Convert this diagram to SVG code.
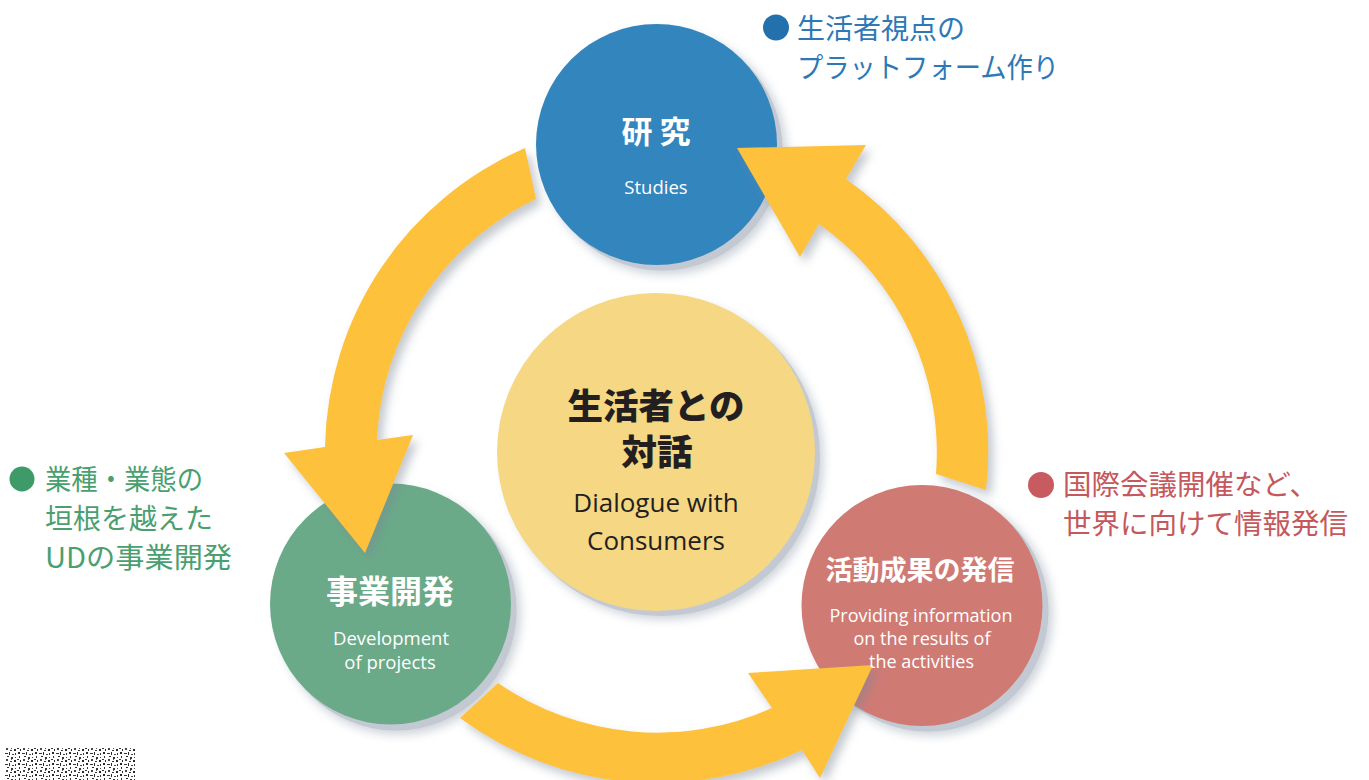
<svg xmlns="http://www.w3.org/2000/svg" width="1369" height="780" viewBox="0 0 1369 780">
  <defs>
    <style>
      .jp { font-family: "Noto Sans CJK JP", "Noto Sans", sans-serif; }
      .en { font-family: "Open Sans", "Noto Sans", "Liberation Sans", sans-serif; }
      .title { font-weight: 700; fill: #ffffff; text-anchor: middle; }
      .sub { fill: #ffffff; text-anchor: middle; }
      .arrow { fill: #fdc13a; filter: url(#ashadow); }
      .shadowA { fill: #a9b2be; opacity: 0.55; filter: url(#blur); }
      .shadowB { fill: #c2c9d2; }
    </style>
    <filter id="blur" x="-20%" y="-20%" width="140%" height="140%">
      <feGaussianBlur stdDeviation="5"/>
    </filter>
    <filter id="ashadow" x="-20%" y="-20%" width="140%" height="140%">
      <feDropShadow dx="5" dy="6" stdDeviation="5" flood-color="#7d8794" flood-opacity="0.45"/>
    </filter>
    <pattern id="noise" width="17" height="11" patternUnits="userSpaceOnUse">
      <rect x="0" y="0" width="2" height="1" fill="#222"/>
      <rect x="3" y="1" width="1" height="2" fill="#111"/>
      <rect x="6" y="0" width="2" height="2" fill="#333"/>
      <rect x="10" y="2" width="2" height="1" fill="#222"/>
      <rect x="14" y="1" width="2" height="2" fill="#111"/>
      <rect x="1" y="4" width="2" height="2" fill="#111"/>
      <rect x="5" y="5" width="3" height="1" fill="#222"/>
      <rect x="9" y="4" width="1" height="3" fill="#111"/>
      <rect x="12" y="6" width="2" height="1" fill="#333"/>
      <rect x="15" y="5" width="1" height="2" fill="#222"/>
      <rect x="2" y="8" width="1" height="2" fill="#222"/>
      <rect x="7" y="8" width="2" height="1" fill="#111"/>
      <rect x="11" y="9" width="2" height="2" fill="#222"/>
      <rect x="15" y="9" width="1" height="1" fill="#333"/>
      <rect x="11" y="0" width="1" height="1" fill="#444"/>
    </pattern>
  </defs>

  <rect width="1369" height="780" fill="#ffffff"/>

  <!-- noise patch -->
  <rect x="4" y="748" width="131" height="32" fill="url(#noise)" opacity="0.9"/>

  <!-- center node -->
  <g id="node-dialogue">
    <circle class="shadowA" cx="664" cy="460" r="160"/>
    <circle class="shadowB" cx="661" cy="457" r="159"/>
    <circle cx="656" cy="452" r="159" fill="#f5d784"/>
    <text class="jp" x="656" y="419" font-size="35.5" font-weight="900" fill="#231f20" text-anchor="middle">生活者との</text>
    <text class="jp" x="657" y="465" font-size="35.5" font-weight="900" fill="#231f20" text-anchor="middle">対話</text>
    <text class="en" x="656" y="512" font-size="26" fill="#231f20" text-anchor="middle">Dialogue with</text>
    <text class="en" x="656" y="550" font-size="26" fill="#231f20" text-anchor="middle">Consumers</text>
  </g>

  <!-- studies node -->
  <g id="node-studies">
    <circle class="shadowA" cx="665" cy="153" r="122"/>
    <circle class="shadowB" cx="662" cy="150" r="120.5"/>
    <circle cx="656.5" cy="144.5" r="120.5" fill="#3385bd"/>
    <text class="jp title" x="656" y="143" font-size="31">研 究</text>
    <text class="en sub" x="656" y="194" font-size="18.5">Studies</text>
  </g>

  <!-- development node -->
  <g id="node-development">
    <circle class="shadowA" cx="399" cy="613" r="122"/>
    <circle class="shadowB" cx="396" cy="610" r="120.5"/>
    <circle cx="390.5" cy="604" r="120.5" fill="#6aaa88"/>
    <text class="jp title" x="390" y="603" font-size="32">事業開発</text>
    <text class="en sub" x="391" y="645" font-size="18.5">Development</text>
    <text class="en sub" x="390" y="669" font-size="18.5">of projects</text>
  </g>

  <!-- information node -->
  <g id="node-information">
    <circle class="shadowA" cx="931" cy="614" r="122"/>
    <circle class="shadowB" cx="928" cy="611" r="120.5"/>
    <circle cx="922" cy="605.5" r="120.5" fill="#d07a74"/>
  </g>

  <!-- connectors -->
  <g id="connectors">
    <path class="arrow" d="M525,148 A332,332 0 0,0 325,447 L284,453 L365,553 L413,435 L377,440 A280,280 0 0,1 536,199 Z"/>
    <path class="arrow" d="M460,718 A332,332 0 0,0 802,750 L820,778 L873,665 L748,673 L772,708 A280,280 0 0,1 498,683 Z"/>
    <path class="arrow" d="M986,490 A332,332 0 0,0 846,179 L866,145 L737,148 L800,257 L819,224 A280,280 0 0,1 936,474 Z"/>
  </g>

  <!-- information node texts (over arrows) -->
  <g id="node-information-text">
    <text class="jp title" x="920" y="580" font-size="27">活動成果の発信</text>
    <text class="en sub" x="921" y="622" font-size="18">Providing information</text>
    <text class="en sub" x="922" y="645" font-size="18">on the results of</text>
    <text class="en sub" x="921.5" y="668" font-size="18">the activities</text>
  </g>

  <!-- annotations -->
  <g id="note-studies">
    <circle cx="776" cy="27.5" r="13" fill="#2270ac"/>
    <text class="jp" x="797" y="39" font-size="28" fill="#2e78b5">生活者視点の</text>
    <text class="jp" x="797" y="78" font-size="28" fill="#2e78b5" textLength="262" lengthAdjust="spacingAndGlyphs">プラットフォーム作り</text>
  </g>
  <g id="note-development">
    <circle cx="22" cy="479" r="12.5" fill="#3f9a6a"/>
    <text class="jp" x="45" y="490" font-size="28" fill="#4a9f70" textLength="158" lengthAdjust="spacingAndGlyphs">業種・業態の</text>
    <text class="jp" x="45" y="529" font-size="28" fill="#4a9f70">垣根を越えた</text>
    <text class="jp" x="45" y="568" font-size="28" fill="#4a9f70" textLength="187" lengthAdjust="spacingAndGlyphs">UDの事業開発</text>
  </g>
  <g id="note-information">
    <circle cx="1041" cy="485" r="13" fill="#c85b60"/>
    <text class="jp" x="1063" y="495" font-size="28.5" fill="#c5585d">国際会議開催など、</text>
    <text class="jp" x="1063" y="534" font-size="28.5" fill="#c5585d">世界に向けて情報発信</text>
  </g>
</svg>
